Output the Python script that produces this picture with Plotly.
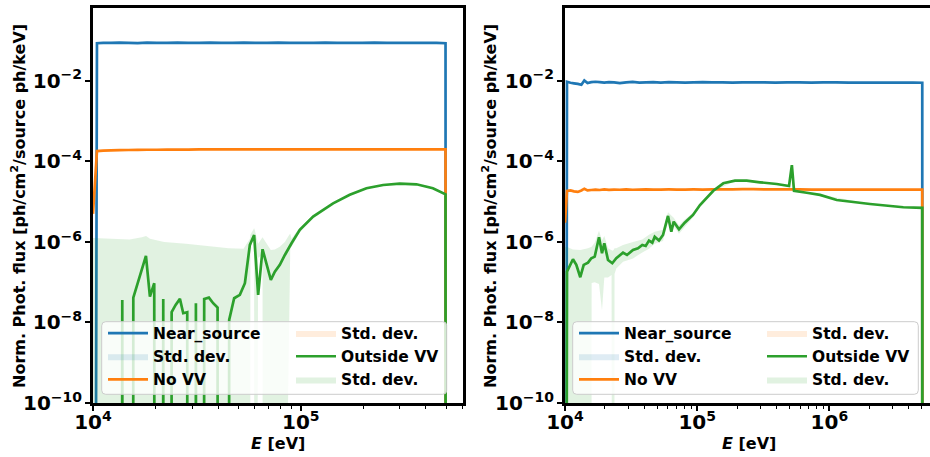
import plotly.graph_objects as go

# ---------------- left panel: 10 keV - 500 keV ----------------
E_L = [1.00e4, 1.045e4, 1.12e4, 1.22e4, 1.34e4, 1.48e4, 1.64e4, 1.82e4, 2.03e4, 2.27e4,
       2.55e4, 2.87e4, 3.24e4, 3.66e4, 4.14e4, 4.69e4, 5.32e4, 6.04e4, 6.86e4, 7.80e4,
       8.87e4, 1.01e5, 1.15e5, 1.31e5, 1.50e5, 1.72e5, 1.97e5, 2.26e5, 2.60e5, 2.99e5,
       3.44e5, 3.96e5, 4.50e5, 4.97e5, 5.00e5]
near_L = [0, 0.086, 0.088, 0.088, 0.089, 0.088, 0.087, 0.089, 0.088, 0.088,
          0.089, 0.088, 0.088, 0.089, 0.088, 0.088, 0.089, 0.088, 0.088, 0.089,
          0.088, 0.088, 0.088, 0.089, 0.088, 0.088, 0.088, 0.089, 0.088, 0.088,
          0.088, 0.088, 0.088, 0.086, 0]
near_L_std = [0, 0.002, 0.0015, 0.0015, 0.0015, 0.0014, 0.0014, 0.0014, 0.0013, 0.0013,
              0.0013, 0.0012, 0.0012, 0.0012, 0.0012, 0.0011, 0.0011, 0.0011, 0.0011, 0.0011,
              0.0010, 0.0010, 0.0010, 0.0010, 0.0010, 0.0010, 0.0010, 0.0010, 0.0010, 0.0010,
              0.0010, 0.0010, 0.0010, 0.0010, 0]
novv_L = [5.0e-6, 1.80e-4, 1.85e-4, 1.88e-4, 1.90e-4, 1.92e-4, 1.93e-4, 1.95e-4, 1.95e-4, 1.96e-4,
          1.97e-4, 1.97e-4, 1.98e-4, 1.98e-4, 1.99e-4, 1.99e-4, 2.00e-4, 2.00e-4, 2.00e-4, 2.00e-4,
          2.00e-4, 2.00e-4, 2.00e-4, 2.00e-4, 2.00e-4, 2.00e-4, 2.00e-4, 2.00e-4, 2.00e-4, 2.00e-4,
          2.00e-4, 1.99e-4, 1.99e-4, 1.98e-4, 0]
novv_L_std = [1e-6, 6e-6, 5e-6, 5e-6, 5e-6, 4e-6, 4e-6, 4e-6, 4e-6, 4e-6,
              4e-6, 4e-6, 4e-6, 4e-6, 4e-6, 4e-6, 4e-6, 4e-6, 4e-6, 4e-6,
              4e-6, 4e-6, 4e-6, 4e-6, 4e-6, 4e-6, 4e-6, 4e-6, 4e-6, 4e-6,
              4e-6, 4e-6, 4e-6, 4e-6, 0]

E_out_L = [1.00e4, 1.37e4, 1.383e4, 1.40e4, 1.55e4, 1.563e4, 1.798e4, 1.879e4, 1.971e4, 1.99e4,
           2.16e4, 2.178e4, 2.20e4, 2.37e4, 2.39e4, 2.498e4, 2.62e4, 2.718e4, 2.841e4, 2.86e4,
           3.10e4, 3.127e4, 3.15e4, 3.40e4, 3.428e4, 3.612e4, 3.787e4, 3.976e4, 4.00e4, 4.49e4,
           4.521e4, 4.778e4, 5.089e4, 5.381e4, 5.686e4, 5.963e4, 6.233e4, 6.545e4, 7.174e4, 7.499e4,
           7.925e4, 8.379e4, 9.022e4, 9.89e4, 1.146e5, 1.43e5, 1.72e5, 2.07e5, 2.49e5, 2.99e5,
           3.60e5, 4.32e5, 4.97e5, 5.00e5]
out_L = [0, 0, 3.64e-8, 0, 0, 4.15e-8, 4.50e-7, 4.40e-8, 9.44e-8, 0,
         0, 3.85e-8, 0, 0, 1.80e-8, 2.73e-8, 3.85e-8, 1.70e-8, 1.80e-8, 0,
         0, 3.01e-8, 0, 0, 3.85e-8, 4.15e-8, 3.01e-8, 2.34e-8, 0, 0,
         1.16e-8, 4.0e-8, 4.84e-8, 9.44e-8, 8.43e-7, 1.49e-6, 4.84e-8, 6.59e-7, 1.14e-7, 1.83e-7,
         2.69e-7, 4.75e-7, 9.29e-7, 2.0e-6, 4.26e-6, 9.1e-6, 1.48e-5, 2.15e-5, 2.6e-5, 2.8e-5,
         2.7e-5, 2.15e-5, 1.53e-5, 0]

E_band_L = [1.00e4, 1.20e4, 1.50e4, 1.72e4, 1.80e4, 1.88e4, 2.20e4, 2.80e4, 3.50e4, 4.50e4,
            5.30e4, 5.69e4, 5.72e4, 5.96e4, 6.00e4, 6.20e4, 6.23e4, 6.545e4, 6.58e4, 7.17e4,
            7.50e4, 7.92e4, 8.38e4, 8.80e4, 8.90e4, 9.02e4, 9.89e4, 1.146e5, 1.43e5, 1.72e5,
            2.07e5, 2.49e5, 2.99e5, 3.60e5, 4.32e5, 4.97e5, 5.00e5]
out_L_hi = [1.25e-6, 1.2e-6, 1.15e-6, 1.3e-6, 1.4e-6, 1.2e-6, 1.0e-6, 9.0e-7, 8.0e-7, 7.0e-7,
            6.8e-7, 1.2e-6, 1.5e-6, 2.2e-6, 2.0e-6, 1.0e-6, 9.0e-7, 1.3e-6, 1.26e-6, 6.3e-7,
            6.5e-7, 7.6e-7, 1.0e-6, 1.5e-6, 1.6e-6, 1.2e-6, 2.3e-6, 4.6e-6, 9.6e-6, 1.55e-5,
            2.2e-5, 2.65e-5, 2.85e-5, 2.75e-5, 2.2e-5, 1.58e-5, 1.58e-5]
out_L_lo = [0, 0, 0, 0, 0, 0, 0, 0, 0, 0,
            0, 0, 7.0e-7, 1.3e-6, 0, 0, 4.0e-7, 5.0e-7, 0, 0,
            0, 0, 0, 0, 8.0e-7, 7.5e-7, 1.75e-6, 3.9e-6, 8.6e-6, 1.42e-5,
            2.1e-5, 2.55e-5, 2.75e-5, 2.65e-5, 2.1e-5, 1.48e-5, 0]

# ---------------- right panel: 10 keV - 5 MeV ----------------
E_R = [1.00e4, 1.035e4, 1.10e4, 1.17e4, 1.25e4, 1.33e4, 1.40e4, 1.48e4, 1.58e4, 1.70e4,
       1.83e4, 1.98e4, 2.15e4, 2.35e4, 2.60e4, 2.90e4, 3.25e4, 3.65e4, 4.10e4, 4.65e4,
       5.30e4, 6.10e4, 7.00e4, 8.10e4, 9.40e4, 1.10e5, 1.30e5, 1.55e5, 1.85e5, 2.20e5,
       2.65e5, 3.20e5, 3.90e5, 4.80e5, 5.90e5, 7.30e5, 9.00e5, 1.12e6, 1.40e6, 1.75e6,
       2.20e6, 2.75e6, 3.45e6, 4.30e6, 5.04e6, 5.06e6]
near_R = [0, 0.0095, 0.0090, 0.0087, 0.0084, 0.0080, 0.0102, 0.0088, 0.0093, 0.0095,
          0.0093, 0.0091, 0.0093, 0.0092, 0.0088, 0.0092, 0.0094, 0.0091, 0.0092, 0.0093,
          0.0091, 0.0093, 0.0092, 0.0091, 0.0092, 0.0093, 0.0092, 0.0092, 0.0091, 0.0092,
          0.0092, 0.0092, 0.0091, 0.0092, 0.0092, 0.0091, 0.0092, 0.0092, 0.0091, 0.0091,
          0.0091, 0.0091, 0.0091, 0.0091, 0.0090, 0]
near_R_std = [0, 0.0004, 0.0004, 0.0004, 0.0004, 0.0004, 0.0004, 0.0003, 0.0003, 0.0003,
              0.0003, 0.0003, 0.0003, 0.0003, 0.0003, 0.0002, 0.0002, 0.0002, 0.0002, 0.0002,
              0.0002, 0.0002, 0.0002, 0.0002, 0.0002, 0.0002, 0.0002, 0.0002, 0.0002, 0.0002,
              0.0002, 0.0002, 0.0002, 0.0002, 0.0002, 0.0002, 0.0002, 0.0002, 0.0002, 0.0002,
              0.0002, 0.0002, 0.0002, 0.0002, 0.0002, 0]
novv_R = [3.0e-6, 1.85e-5, 1.90e-5, 1.80e-5, 1.75e-5, 1.90e-5, 2.10e-5, 1.90e-5, 1.95e-5, 2.00e-5,
          1.95e-5, 2.02e-5, 1.97e-5, 2.00e-5, 1.98e-5, 2.02e-5, 1.98e-5, 2.00e-5, 2.01e-5, 1.99e-5,
          2.00e-5, 2.01e-5, 2.00e-5, 2.00e-5, 2.01e-5, 2.00e-5, 2.01e-5, 2.02e-5, 2.03e-5, 2.04e-5,
          2.04e-5, 2.03e-5, 2.03e-5, 2.02e-5, 2.01e-5, 2.00e-5, 2.00e-5, 2.00e-5, 2.00e-5, 2.00e-5,
          2.00e-5, 2.00e-5, 2.00e-5, 2.00e-5, 2.00e-5, 0]
novv_R_std = [1e-6, 1.2e-6, 1.2e-6, 1.1e-6, 1.1e-6, 1.1e-6, 1.1e-6, 1.0e-6, 1.0e-6, 1.0e-6,
              9e-7, 9e-7, 9e-7, 8e-7, 8e-7, 8e-7, 7e-7, 7e-7, 7e-7, 6e-7,
              6e-7, 6e-7, 5e-7, 5e-7, 5e-7, 5e-7, 5e-7, 5e-7, 5e-7, 5e-7,
              5e-7, 5e-7, 5e-7, 5e-7, 5e-7, 5e-7, 5e-7, 5e-7, 5e-7, 5e-7,
              5e-7, 5e-7, 5e-7, 5e-7, 5e-7, 0]

E_out_R = [1.00e4, 1.035e4, 1.149e4, 1.218e4, 1.305e4, 1.385e4, 1.493e4, 1.581e4, 1.678e4, 1.808e4,
           1.905e4, 1.983e4, 2.115e4, 2.279e4, 2.443e4, 2.747e4, 2.944e4, 3.268e4, 3.566e4, 3.843e4,
           4.078e4, 4.319e4, 4.575e4, 4.770e4, 5.140e4, 5.512e4, 6.013e4, 6.370e4, 6.641e4, 7.283e4,
           8.043e4, 9.294e4, 1.050e5, 1.324e5, 1.576e5, 1.932e5, 2.368e5, 2.985e5, 3.994e5, 4.95e5,
           5.20e5, 5.40e5, 6.733e5, 8.49e5, 1.136e6, 2.028e6, 3.622e6, 5.04e6, 5.06e6]
out_R = [0, 1.83e-7, 3.72e-7, 2.69e-7, 1.33e-7, 2.69e-7, 3.06e-7, 3.94e-7, 4.32e-7, 1.31e-6,
         5.25e-7, 9.29e-7, 3.57e-7, 2.96e-7, 3.94e-7, 5.42e-7, 4.75e-7, 6.33e-7, 6.98e-7, 8.43e-7,
         7.96e-7, 1.08e-6, 9.61e-7, 1.35e-6, 1.08e-6, 1.49e-6, 4.42e-6, 1.80e-6, 3.19e-6, 2.06e-6,
         3.01e-6, 4.68e-6, 8.28e-6, 1.87e-5, 2.86e-5, 3.32e-5, 3.32e-5, 3.03e-5, 2.75e-5, 2.45e-5,
         8.1e-5, 1.87e-5, 1.67e-5, 1.47e-5, 1.10e-5, 8.77e-6, 7.26e-6, 7.0e-6, 0]

E_band_R = [1.00e4, 1.035e4, 1.149e4, 1.305e4, 1.493e4, 1.57e4, 1.59e4, 1.678e4, 1.808e4, 1.905e4,
            1.983e4, 2.115e4, 2.25e4, 2.29e4, 2.33e4, 2.37e4, 2.443e4, 2.747e4, 3.268e4, 3.843e4,
            4.319e4, 4.770e4, 5.512e4, 6.013e4, 6.641e4, 7.283e4, 8.043e4, 9.294e4, 1.050e5, 1.324e5,
            1.932e5, 2.985e5, 4.95e5, 5.20e5, 5.40e5, 8.49e5, 2.028e6, 5.04e6, 5.06e6]
out_R_hi = [7.5e-7, 7.5e-7, 6.5e-7, 6.3e-7, 7.0e-7, 7.6e-7, 7.6e-7, 9.5e-7, 1.9e-6, 1.1e-6,
            1.4e-6, 7.0e-7, 6.3e-7, 6.0e-7, 6.3e-7, 7.0e-7, 7.0e-7, 8.4e-7, 1.0e-6, 1.15e-6,
            1.5e-6, 1.8e-6, 2.0e-6, 5.5e-6, 4.0e-6, 2.6e-6, 3.6e-6, 5.3e-6, 9.0e-6, 1.95e-5,
            3.4e-5, 3.1e-5, 2.5e-5, 8.4e-5, 1.92e-5, 1.5e-5, 8.9e-6, 7.1e-6, 7.1e-6]
out_R_lo = [0, 0, 0, 0, 0, 0, 9.5e-8, 1.0e-7, 9.0e-8, 2.0e-8,
            1.3e-7, 1.3e-7, 1.5e-7, 0, 0, 1.6e-7, 2.2e-7, 3.2e-7, 3.9e-7, 5.5e-7,
            6.8e-7, 9.0e-7, 1.05e-6, 3.3e-6, 2.5e-6, 1.6e-6, 2.4e-6, 4.1e-6, 7.6e-6, 1.8e-5,
            3.25e-5, 2.95e-5, 2.4e-5, 7.8e-5, 1.82e-5, 1.44e-5, 8.6e-6, 6.9e-6, 0]

Y_TITLE = "Norm. Phot. flux [ph/cm<sup>2</sup>/source ph/keV]"
X_TITLE = "<i>E</i> [eV]"

BLUE, ORANGE, GREEN = "#1f77b4", "#ff7f0e", "#2ca02c"
FILLS = {BLUE: "rgba(31,119,180,0.14)", ORANGE: "rgba(255,127,14,0.14)",
         GREEN: "rgba(44,160,44,0.14)"}
LW = 2.7

# zero flux on a log axis: drawn as a plunge below the bottom of the frame
FLOOR = 1e-40

W, H = 930, 457
FONT = "DejaVu Sans"


def pos(vals):
    return [v if v > 0 else FLOOR for v in vals]


def band(E, lo, hi):
    return list(E) + list(E)[::-1], pos(hi) + pos(lo)[::-1]


def mean_band(E, m, s):
    hi = [a + b for a, b in zip(m, s)]
    lo = [a - b for a, b in zip(m, s)]
    return band(E, lo, hi)


fig = go.Figure()


def add_panel(xa, ya, leg_a, leg_b, E, near, near_s, novv, novv_s, Eo, out, Eb, lo, hi, rank0):
    xs, ys = mean_band(E, near, near_s)
    fig.add_trace(go.Scatter(x=xs, y=ys, fill="toself", fillcolor=FILLS[BLUE], line=dict(width=0),
                             mode="lines", name="Std. dev.", legend=leg_a, legendrank=rank0 + 2,
                             xaxis=xa, yaxis=ya, hoverinfo="skip"))
    fig.add_trace(go.Scatter(x=E, y=pos(near), mode="lines", line=dict(color=BLUE, width=LW, simplify=False),
                             name="Near_source", legend=leg_a, legendrank=rank0 + 1, xaxis=xa, yaxis=ya))
    xs, ys = mean_band(E, novv, novv_s)
    fig.add_trace(go.Scatter(x=xs, y=ys, fill="toself", fillcolor=FILLS[ORANGE], line=dict(width=0),
                             mode="lines", name="Std. dev.", legend=leg_b, legendrank=rank0 + 4,
                             xaxis=xa, yaxis=ya, hoverinfo="skip"))
    fig.add_trace(go.Scatter(x=E, y=pos(novv), mode="lines", line=dict(color=ORANGE, width=LW, simplify=False),
                             name="No VV", legend=leg_a, legendrank=rank0 + 3, xaxis=xa, yaxis=ya))
    xs, ys = band(Eb, lo, hi)
    fig.add_trace(go.Scatter(x=xs, y=ys, fill="toself", fillcolor=FILLS[GREEN], line=dict(width=0),
                             mode="lines", name="Std. dev.", legend=leg_b, legendrank=rank0 + 6,
                             xaxis=xa, yaxis=ya, hoverinfo="skip"))
    fig.add_trace(go.Scatter(x=Eo, y=pos(out), mode="lines", line=dict(color=GREEN, width=LW, simplify=False),
                             name="Outside VV", legend=leg_b, legendrank=rank0 + 5, xaxis=xa, yaxis=ya))


add_panel("x", "y", "legend", "legend2", E_L, near_L, near_L_std, novv_L, novv_L_std,
          E_out_L, out_L, E_band_L, out_L_lo, out_L_hi, 0)
add_panel("x2", "y2", "legend3", "legend4", E_R, near_R, near_R_std, novv_R, novv_R_std,
          E_out_R, out_R, E_band_R, out_R_lo, out_R_hi, 10)

tickfont = dict(family=FONT, size=16, color="black", weight="bold")
top, bottom = 8, 403
ydom = [1 - bottom / H, 1 - top / H]
L0, L1 = 93, 462.5
R0, R1 = 565, 930
xr_R = 4 + (R1 - R0) / 132.2

common_x = dict(type="log", dtick=1, exponentformat="power", showexponent="all",
                showline=True, linecolor="black", linewidth=2.5, mirror=True,
                ticks="outside", ticklen=5, tickwidth=1.5, tickcolor="black",
                tickfont=tickfont, showgrid=False, zeroline=False, automargin=False,
                ticklabelstandoff=-5,
                minor=dict(ticks="outside", ticklen=3, tickwidth=1.2, tickcolor="black",
                           dtick="D1", showgrid=False))
common_y = dict(type="log", dtick=2, tick0=0, range=[-10, -0.19], domain=ydom,
                exponentformat="power", showexponent="all",
                showline=True, linecolor="black", linewidth=2.5,
                ticks="outside", ticklen=5, tickwidth=1.5, tickcolor="black",
                tickfont=tickfont, showgrid=False, zeroline=False, automargin=False)

fig.update_layout(
    width=W, height=H, margin=dict(l=0, r=0, t=0, b=0),
    paper_bgcolor="white", plot_bgcolor="white", showlegend=True,
    xaxis=dict(common_x, domain=[L0 / W, L1 / W], range=[4, 5.778], anchor="y"),
    yaxis=dict(common_y, anchor="x", mirror=True),
    xaxis2=dict(common_x, domain=[R0 / W, R1 / W], range=[4, xr_R], anchor="y2"),
    yaxis2=dict(common_y, anchor="x2", mirror=False),
)

legfont = dict(family=FONT, size=15.5, color="black", weight="bold")
leg_y = 1 - 316.5 / H
for name, px in [("legend", 103), ("legend2", 291), ("legend3", 574), ("legend4", 762)]:
    fig.update_layout({name: dict(x=px / W, xanchor="left", y=leg_y, yanchor="top",
                                  bgcolor="rgba(0,0,0,0)", borderwidth=0, font=legfont,
                                  itemwidth=40, traceorder="normal", tracegroupgap=0)})


def rounded_box(x0, y0, x1, y1, r=4):
    def X(p):
        return p / W

    def Y(p):
        return 1 - p / H
    return (f"M{X(x0 + r)},{Y(y0)} L{X(x1 - r)},{Y(y0)} Q{X(x1)},{Y(y0)} {X(x1)},{Y(y0 + r)} "
            f"L{X(x1)},{Y(y1 - r)} Q{X(x1)},{Y(y1)} {X(x1 - r)},{Y(y1)} "
            f"L{X(x0 + r)},{Y(y1)} Q{X(x0)},{Y(y1)} {X(x0)},{Y(y1 - r)} "
            f"L{X(x0)},{Y(y0 + r)} Q{X(x0)},{Y(y0)} {X(x0 + r)},{Y(y0)} Z")


for bx0, bx1 in [(101.7, 446.7), (572.7, 918.3)]:
    fig.add_shape(type="path", path=rounded_box(bx0, 321.7, bx1, 394.3), xref="paper", yref="paper",
                  layer="above", fillcolor="rgba(255,255,255,0.8)", line=dict(color="#cccccc", width=1))

titlefont = dict(family=FONT, size=16, color="black", weight="bold")
for xc, yc in [(18, 206), (489, 206)]:
    fig.add_annotation(text=Y_TITLE, x=xc / W, y=1 - yc / H, xref="paper", yref="paper",
                       textangle=-90, showarrow=False, font=titlefont, xanchor="center", yanchor="middle")
for xc in [(L0 + L1) / 2, (R0 + 932) / 2]:
    fig.add_annotation(text=X_TITLE, x=xc / W, y=1 - 443 / H, xref="paper", yref="paper",
                       showarrow=False, font=titlefont, xanchor="center", yanchor="middle")

fig.write_html("out.html")
